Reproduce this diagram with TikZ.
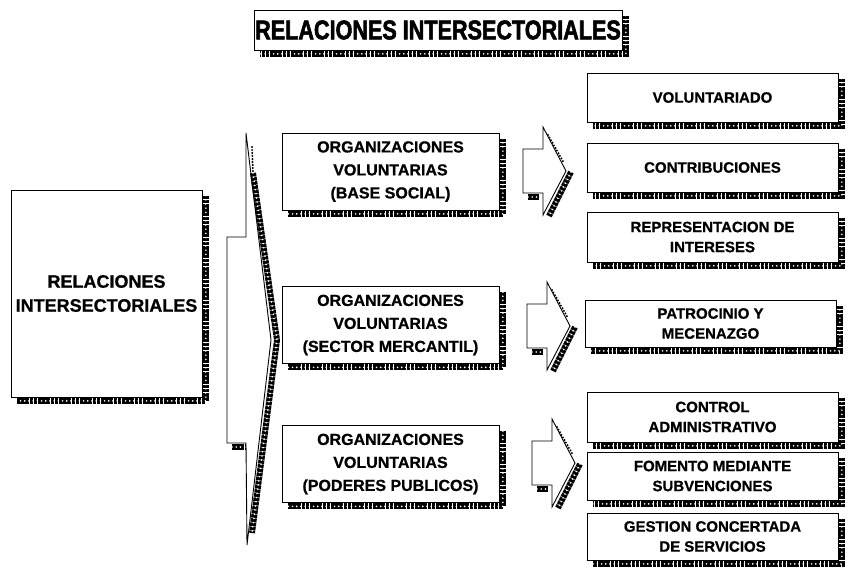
\documentclass[tikz,border=0pt]{standalone}
\usepackage{fontspec}
\setmainfont{Liberation Sans}
\newfontfamily\heavyfont[FakeBold=2,FakeStretch=0.8]{Liberation Sans Bold}
\newfontfamily\boxfont[FakeBold=0.8]{Liberation Sans Bold}
\begin{document}
\begin{tikzpicture}[
    x=1pt, y=-1pt,
    box/.style={draw, line width=0.9pt, align=center, inner sep=0pt,
      font=\boxfont\fontsize{15}{20}\selectfont},
    midbox/.style={box, minimum width=217pt, minimum height=77pt,
      font=\boxfont\fontsize{16}{23}\selectfont},
    rightbox/.style={box, minimum width=251pt},
    dotshadow/.style={line width=6pt, dash pattern=on 3.6pt off 0.6pt,
      postaction={draw=white, line width=1.8pt, line cap=round,
        dash pattern=on 0pt off 4.2pt}},
    thinshadow/.style={line width=2.2pt, line cap=round, dash pattern=on 0pt off 3pt}
  ]
  \useasboundingbox (0,0) rectangle (849,571);

  % title and left box
  \node[box, minimum width=368pt, minimum height=40pt,
    font=\heavyfont\fontsize{27}{30}\selectfont] (title) at (438,30) {RELACIONES INTERSECTORIALES};
  \node[box, minimum width=191pt, minimum height=207pt,
    font=\boxfont\fontsize{18}{24}\selectfont] (left) at (106.5,293.5) {RELACIONES\\INTERSECTORIALES};

  % middle column
  \node[midbox] (m1) at (390.5,171.5) {ORGANIZACIONES\\VOLUNTARIAS\\(BASE SOCIAL)};
  \node[midbox] (m2) at (390.5,325) {ORGANIZACIONES\\VOLUNTARIAS\\(SECTOR MERCANTIL)};
  \node[midbox] (m3) at (390.5,464) {ORGANIZACIONES\\VOLUNTARIAS\\(PODERES PUBLICOS)};

  % right column
  \node[rightbox, minimum height=49pt] (r1) at (712.5,97.5) {VOLUNTARIADO};
  \node[rightbox, minimum height=49pt] (r2) at (712.5,167.5) {CONTRIBUCIONES};
  \node[rightbox, minimum height=50pt] (r3) at (712.5,237) {REPRESENTACION DE\\INTERESES};
  \node[rightbox, minimum height=47pt] (r4) at (710.5,323.5) {PATROCINIO Y\\MECENAZGO};
  \node[rightbox, minimum height=50pt] (r5) at (712.5,417) {CONTROL\\ADMINISTRATIVO};
  \node[rightbox, minimum height=48pt] (r6) at (712.5,476) {FOMENTO MEDIANTE\\SUBVENCIONES};
  \node[rightbox, minimum height=47pt] (r7) at (712.5,536.5) {GESTION CONCERTADA\\DE SERVICIOS};

  % box shadows
  \foreach \n in {title,left,m1,m2,m3,r1,r2,r3,r4,r5,r6,r7}
    \draw[dotshadow] ([xshift=3.4pt,yshift=-6pt]\n.north east)
      -- ([xshift=3.4pt,yshift=-3.4pt]\n.south east)
      -- ([xshift=6pt,yshift=-3.4pt]\n.south west);

  % big chevron
  \coordinate (tipT) at (246,133);
  \coordinate (apex) at (271,340);
  \coordinate (tipB) at (247,545);
  \coordinate (shNE) at (246,237);
  \coordinate (shNW) at (227,237);
  \coordinate (shSW) at (227,443);
  \coordinate (shSE) at (246,443);
  \draw[line width=0.9pt, line join=miter] (tipT) -- (shNE) -- (shNW) -- (shSW)
    -- (shSE) -- (tipB) -- (apex) -- cycle;
  \draw[thinshadow] ([xshift=6pt,yshift=-14pt]tipT) -- ([xshift=7pt,yshift=-40pt]tipT);
  \draw[dotshadow] ([xshift=7pt,yshift=-40pt]tipT) -- ([xshift=6pt]apex)
    -- ([xshift=5pt,yshift=12pt]tipB);
  \draw[dotshadow] ([xshift=5pt,yshift=-4pt]shSW) -- ([xshift=-1pt,yshift=-4pt]shSE);

  % small arrows
  \foreach \ax/\ay in {523/171, 527/326, 532/463} {
    \draw[line width=0.9pt, line join=miter] (\ax,{\ay-22}) -- ({\ax+20},{\ay-22})
      -- ({\ax+20},{\ay-44}) -- ({\ax+43},\ay) -- ({\ax+20},{\ay+44})
      -- ({\ax+20},{\ay+22}) -- (\ax,{\ay+22}) -- cycle;
    \draw[thinshadow] ({\ax+25},{\ay-36}) -- ({\ax+41},{\ay-8});
    \draw[dotshadow] ({\ax+48},{\ay+1}) -- ({\ax+26},{\ay+45});
    \draw[dotshadow] ({\ax+5},{\ay+26}) -- ({\ax+16},{\ay+26});
  }
\end{tikzpicture}
\end{document}
